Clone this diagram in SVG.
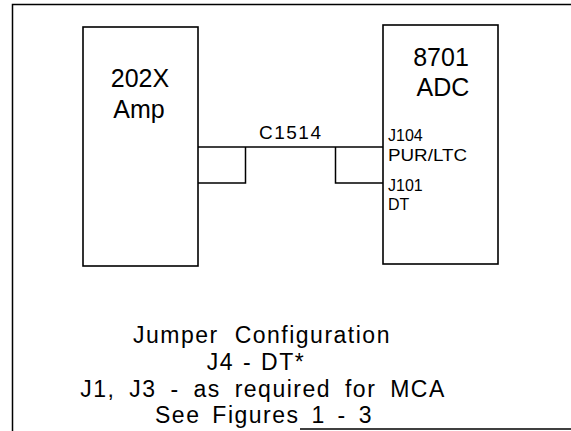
<svg xmlns="http://www.w3.org/2000/svg" width="571" height="431" viewBox="0 0 571 431">
<style>
.box{fill:#fff;stroke:#000;stroke-width:1.6}
.ln{fill:none;stroke:#000;stroke-width:1.5}
text{font-family:"Liberation Sans",Arial,sans-serif;fill:#000}
.big{font-size:25px;text-anchor:middle}
.pin{font-size:16px}
.cap{font-size:23px;text-anchor:middle;letter-spacing:1.5px}
</style>
<rect width="571" height="431" fill="#fff"/>
<g id="frame" class="ln">
<path d="M12.5,431 V4.5 H571"/>
<path d="M300,429 H571"/>
</g>
<g id="amp">
<rect class="box" x="83" y="27" width="115" height="239"/>
<text class="big" x="140" y="87">202X</text>
<text class="big" x="139" y="118">Amp</text>
</g>
<g id="adc">
<rect class="box" x="383" y="25" width="115" height="239"/>
<text class="big" x="441" y="66">8701</text>
<text class="big" x="443" y="96">ADC</text>
<text class="pin" x="388" y="141">J104</text>
<text class="pin" x="388" y="161" textLength="79" lengthAdjust="spacingAndGlyphs">PUR/LTC</text>
<text class="pin" x="388" y="191">J101</text>
<text class="pin" x="388" y="210">DT</text>
</g>
<g id="connectors" class="ln">
<path d="M198,147 H383"/>
<path d="M198,183 H245.5 V147"/>
<path d="M335.5,147 V183 H383"/>
</g>
<g id="cable-label">
<text x="290" y="139" font-size="19" text-anchor="middle" textLength="62" lengthAdjust="spacing">C1514</text>
</g>
<g id="caption">
<text class="cap" x="262" y="343" word-spacing="8">Jumper Configuration</text>
<text class="cap" x="256" y="370" word-spacing="1">J4 - DT*</text>
<text class="cap" x="263" y="397" word-spacing="6">J1, J3 - as required for MCA</text>
<text class="cap" x="264" y="423" word-spacing="4">See Figures 1 - 3</text>
</g>
</svg>
